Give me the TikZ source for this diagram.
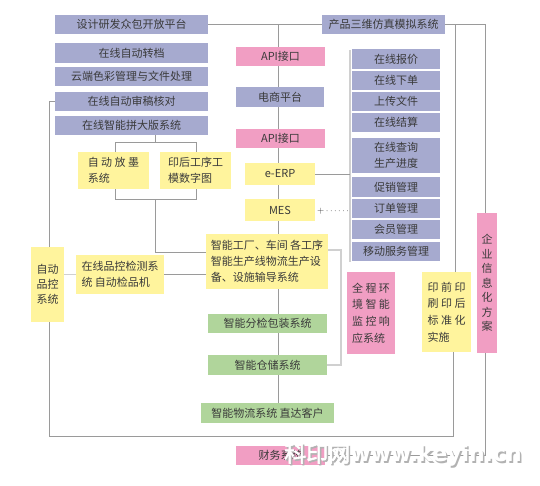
\documentclass[tikz,border=0pt]{standalone}
\usepackage{fontspec}
\newfontfamily\cjk{Noto Sans CJK SC}
\newfontfamily\cjkwm[FakeBold=2.5]{Noto Sans CJK SC}
\newfontfamily\wmlat{DejaVu Sans}
\definecolor{lav}{HTML}{A6AACF}
\definecolor{pnk}{HTML}{F19EC3}
\definecolor{ylw}{HTML}{FFF49D}
\definecolor{grn}{HTML}{B0D59B}
\definecolor{txt}{HTML}{3A3A3A}
\definecolor{lgray}{HTML}{9A9A9A}
\definecolor{pale}{HTML}{D0D0D0}
\tikzset{
  box/.style={inner sep=0pt, font=\cjk\fontsize{11}{16}\selectfont, text=txt},
  bl/.style={box, fill=lav},
  pk/.style={box, fill=pnk},
  yl/.style={box, fill=ylw},
  gr/.style={box, fill=grn},
  ln/.style={draw=lgray, line width=0.8pt},
  tk/.style={draw=pale, line width=1.8pt},
}
\newcommand{\chsp}{\hspace{2.5pt}}
\begin{document}
\begin{tikzpicture}[x=1pt,y=-1pt]
\useasboundingbox[fill=white] (0,0) rectangle (540,485);
% left lavender column
\node[bl, minimum width=153pt, minimum height=19pt] (dev) at (131.5,24.5) {设计研发众包开放平台};
\node[bl, minimum width=153pt, minimum height=20pt] (zd) at (131.5,53) {在线自动转档};
\node[bl, minimum width=153pt, minimum height=19pt] (yd) at (131.5,76.5) {云端色彩管理与文件处理};
\node[bl, minimum width=153pt, minimum height=19pt] (sg) at (131.5,101.5) {在线自动审稿核对};
\node[bl, minimum width=153pt, minimum height=19pt] (pb) at (131.5,125.5) {在线智能拼大版系统};
\node[bl, minimum width=123pt, minimum height=19pt] (sw) at (383.5,24.5) {产品三维仿真模拟系统};
% middle column
\node[pk, minimum width=89pt, minimum height=19pt] (api1) at (280.5,56.5) {API接口};
\node[bl, minimum width=88pt, minimum height=20pt] (ds) at (280,97) {电商平台};
\node[pk, minimum width=89pt, minimum height=19pt] (api2) at (280.5,138.5) {API接口};
\node[yl, minimum width=70pt, minimum height=22pt] (erp) at (280,174) {e-ERP};
\node[yl, minimum width=70pt, minimum height=22pt] (mes) at (280,210) {MES};
\node[anchor=west, inner sep=0pt, text=txt, font=\fontsize{9}{12}\selectfont] (more) at (317,211) {+\,$\cdots\cdots$};
\node[yl, minimum width=122pt, minimum height=55pt, align=left] (zngc) at (267,261.5) {智能工厂、车间 各工序\\智能生产线物流生产设\\备、设施输导系统};
\node[gr, minimum width=119pt, minimum height=19pt] (fj) at (267.5,323.5) {智能分检包装系统};
\node[gr, minimum width=119pt, minimum height=20pt] (cc) at (267.5,365) {智能仓储系统};
\node[gr, minimum width=133pt, minimum height=20pt] (wl) at (267.5,413) {智能物流系统 直达客户};
\node[pk, minimum width=89pt, minimum height=19pt] (cw) at (280.5,455.5) {财务系统};
% right lavender column
\node[bl, minimum width=88pt, minimum height=20pt] (bj) at (396,59) {在线报价};
\node[bl, minimum width=88pt, minimum height=19pt] (xd) at (396,80.5) {在线下单};
\node[bl, minimum width=88pt, minimum height=19pt] (scw) at (396,101.5) {上传文件};
\node[bl, minimum width=88pt, minimum height=19pt] (js) at (396,122.5) {在线结算};
\node[bl, minimum width=88pt, minimum height=35pt, align=center] (cx) at (396,155.5) {在线查询\\生产进度};
\node[bl, minimum width=88pt, minimum height=20pt] (cxg) at (396,187) {促销管理};
\node[bl, minimum width=88pt, minimum height=19pt] (dd) at (396,208.5) {订单管理};
\node[bl, minimum width=88pt, minimum height=19pt] (hy) at (396,229.5) {会员管理};
\node[bl, minimum width=88pt, minimum height=19pt] (yfw) at (396,251.5) {移动服务管理};
% yellow / pink blocks
\node[yl, minimum width=71pt, minimum height=37pt, align=left] (zdfm) at (113.5,170.5) {自\chsp 动\chsp 放\chsp 墨\\系统};
\node[yl, minimum width=71pt, minimum height=37pt, align=left] (yh) at (195.5,170.5) {印后工序工\\模数字图};
\node[yl, minimum width=88pt, minimum height=39pt, align=left] (zx) at (120,274.5) {在线品控检测系\\统 自动检品机};
\node[yl, minimum width=33pt, minimum height=75pt, align=left, font=\cjk\fontsize{11}{15}\selectfont] (zdpk) at (47.5,284.5) {自动\\品控\\系统};
\node[pk, minimum width=48pt, minimum height=82pt, align=left, font=\cjk\fontsize{11}{16.7}\selectfont] (qc) at (371,313) {全\chsp 程\chsp 环\\境\chsp 智\chsp 能\\监\chsp 控\chsp 响\\应系统};
\node[yl, minimum width=49pt, minimum height=80pt, align=left, font=\cjk\fontsize{11}{16.7}\selectfont] (yq) at (446.5,312) {印\chsp 前\chsp 印\\刷\chsp 印\chsp 后\\标\chsp 准\chsp 化\\实施};
\node[pk, minimum width=20pt, minimum height=140pt, align=center, font=\cjk\fontsize{11}{14.5}\selectfont] (qy) at (487,283) {企\\业\\信\\息\\化\\方\\案};
% connectors
\coordinate (mx) at (278,0);
\draw[ln] (dev.east) -- (sw.west);
\draw[ln] (dev.east -| mx) -- (api1.north -| mx);
\draw[ln] (api1.south -| mx) -- (ds.north -| mx);
\draw[ln] (ds.south -| mx) -- (api2.north -| mx);
\draw[ln] (api2.south -| mx) -- (erp.north -| mx);
\draw[ln] (erp.south -| mx) -- (mes.north -| mx);
\draw[ln] (mes.south -| mx) -- (zngc.north -| mx);
\draw[ln] (zngc.south -| mx) -- (fj.north -| mx);
\draw[ln] (fj.south -| mx) -- (cc.north -| mx);
\draw[ln] (cc.south -| mx) -- (wl.north -| mx);
\coordinate (bt) at (350,50);
\coordinate (bb) at (350,262);
\draw[tk] (bt) -- (bb);
\draw[ln] (erp.east) -- (erp.east -| bt);
\coordinate (c1) at (455,24.5);
\coordinate (c2) at (485,24.5);
\draw[ln] (sw.east) -- (c2) -- (c2 |- qy.north);
\draw[ln] (c1) -- (c1 |- yq.north);
\coordinate (c3) at (453,436);
\coordinate (c4) at (49,436);
\draw[ln] (c3 |- yq.south) -- (c3) -- (c4) -- (c4 |- zdpk.south);
\coordinate (c5) at (485,455.5);
\draw[ln] (c5 |- qy.south) -- (c5) -- (cw.east);
\coordinate (c6) at (49,101.5);
\draw[ln] (sg.west) -- (c6) -- (c6 |- zdpk.north);
\draw[tk] (zdpk.east |- zx.west) -- (zx.west);
\draw[ln] (zx.east) -- (zx.east -| zngc.west);
\coordinate (b1) at (155,142);
\coordinate (b2) at (115,142);
\coordinate (b3) at (196,142);
\draw[ln] (pb.south -| b1) -- (b1);
\draw[ln] (b2 |- zdfm.north) -- (b2) -- (b3) -- (b3 |- yh.north);
\coordinate (b4) at (115,199);
\coordinate (b5) at (196,199);
\coordinate (b6) at (155,199);
\coordinate (b7) at (155,252);
\draw[ln] (b4 |- zdfm.south) -- (b4) -- (b5) -- (b5 |- yh.south);
\draw[ln] (b6) -- (b7) -- (b7 -| zngc.west);
\coordinate (r1) at (341,250);
\draw[tk] (r1 -| zngc.east) -- (r1) -- (r1 |- cc.east) -- (cc.east);
% watermark
\node[inner sep=0pt, text=gray!60, font=\fontsize{22}{24}\selectfont] (wm0) at (404.5,456.5) {\cjkwm 科印网\wmlat\bfseries www.keyin.cn};
\node[inner sep=0pt, text=white, font=\fontsize{22}{24}\selectfont] (wm) at (403,455) {\cjkwm 科印网\wmlat\bfseries www.keyin.cn};
\end{tikzpicture}
\end{document}
